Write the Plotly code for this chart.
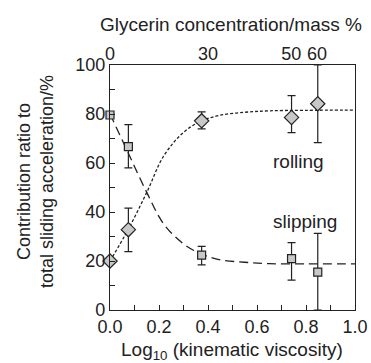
import plotly.graph_objects as go

# ---- data ----
log_visc = [0.0, 0.075, 0.374, 0.741, 0.848]
slipping = [79.6, 66.7, 22.4, 21.0, 15.5]
slipping_err_plus = [0.0, 9.0, 3.6, 6.5, 15.8]
slipping_err_minus = [0.0, 8.7, 4.0, 8.8, 15.5]
rolling = [20.0, 32.8, 77.2, 78.6, 84.2]
rolling_err_plus = [0.0, 8.8, 3.7, 8.9, 15.8]
rolling_err_minus = [0.0, 9.0, 3.3, 6.2, 15.9]

curve_x = [0.0, 0.075, 0.15, 0.22, 0.30, 0.37, 0.45, 0.55, 0.65, 0.80, 1.0]
rolling_curve = [20.0, 33.0, 48.0, 63.0, 72.5, 77.0, 79.5, 80.7, 81.3, 81.5, 81.6]
slipping_curve = [80.0, 64.0, 48.0, 35.0, 27.0, 23.0, 20.5, 19.5, 18.9, 18.8, 18.8]

glycerin_pos = [0.0, 0.40, 0.74, 0.845]
glycerin_labels = ["0", "30", "50", "60"]

FONT = "Liberation Sans, Arial, Helvetica, sans-serif"
INK = "#222222"
W, H = 371, 363
L, R, T, B = 110, 16, 65, 53
PW, PH = W - L - R, H - T - B


def px_x(px):
    return (px - L) / PW


def px_y(py):
    return (H - B - py) / PH


fig = go.Figure()

fig.add_trace(go.Scatter(x=curve_x, y=rolling_curve, mode="lines", line_shape="spline",
                         line=dict(color=INK, width=1.3, dash="3px,2px"), showlegend=False))
fig.add_trace(go.Scatter(x=curve_x, y=slipping_curve, mode="lines", line_shape="spline",
                         line=dict(color=INK, width=1.3, dash="9px,5px"), showlegend=False))

fig.add_trace(go.Scatter(
    x=log_visc, y=slipping, mode="markers", cliponaxis=False, showlegend=False,
    marker=dict(symbol="square", size=8, color="#c8c8c8", line=dict(color=INK, width=1.2)),
    error_y=dict(type="data", symmetric=False, array=slipping_err_plus,
                 arrayminus=slipping_err_minus, color=INK, thickness=1.2, width=4)))
fig.add_trace(go.Scatter(
    x=log_visc, y=rolling, mode="markers", cliponaxis=False, showlegend=False,
    marker=dict(symbol="diamond", size=11, color="#c8c8c8", line=dict(color=INK, width=1.2)),
    error_y=dict(type="data", symmetric=False, array=rolling_err_plus,
                 arrayminus=rolling_err_minus, color=INK, thickness=1.2, width=4)))

# dummy trace for top axis
fig.add_trace(go.Scatter(x=[0, 1], y=[None, None], xaxis="x2", showlegend=False, hoverinfo="skip"))

axis_common = dict(showline=True, linecolor=INK, linewidth=1.2, mirror=True, showgrid=False,
                   zeroline=False, ticks="inside", ticklen=5, tickcolor=INK, tickwidth=1,
                   automargin=False, tickfont=dict(family=FONT, size=18, color=INK))

fig.update_layout(
    width=W, height=H,
    margin=dict(l=L, r=R, t=T, b=B),
    paper_bgcolor="white", plot_bgcolor="white",
    font=dict(family=FONT, color=INK),
    xaxis=dict(range=[0, 1], tickvals=[0, 0.2, 0.4, 0.6, 0.8, 1.0],
               ticktext=["0.0", "0.2", "0.4", "0.6", "0.8", "1.0"],
               minor=dict(tickvals=[0.1, 0.3, 0.5, 0.7, 0.9], ticks="inside", ticklen=5,
                          tickcolor=INK),
               ticklabelstandoff=0, **axis_common),
    xaxis2=dict(range=[0, 1], overlaying="x", side="top", tickvals=glycerin_pos,
                ticktext=glycerin_labels, ticks="", showline=False, showgrid=False,
                zeroline=False, ticklabelstandoff=0, automargin=False,
                tickfont=dict(family=FONT, size=18, color=INK)),
    yaxis=dict(range=[0, 100], tickvals=[0, 20, 40, 60, 80, 100],
               minor=dict(tickvals=[10, 30, 50, 70, 90], ticks="inside", ticklen=5,
                          tickcolor=INK),
               ticklabelstandoff=0, **axis_common),
)

ann_common = dict(showarrow=False, xanchor="center", yanchor="middle")
fig.add_annotation(text="rolling", x=0.77, y=60.5, xref="x", yref="y",
                   font=dict(family=FONT, size=19, color=INK), **ann_common)
fig.add_annotation(text="slipping", x=0.796, y=36, xref="x", yref="y",
                   font=dict(family=FONT, size=19, color=INK), **ann_common)
fig.add_annotation(text="Glycerin concentration/mass %", x=px_x(231), y=px_y(24),
                   xref="paper", yref="paper",
                   font=dict(family=FONT, size=19, color=INK), **ann_common)
fig.add_annotation(text="Log<sub>10</sub> (kinematic viscosity)", x=px_x(232), y=px_y(351),
                   xref="paper", yref="paper",
                   font=dict(family=FONT, size=19, color=INK), **ann_common)
fig.add_annotation(text="Contribution ratio to<br>total sliding acceleration/%", x=px_x(35),
                   y=px_y(182), xref="paper", yref="paper", textangle=-90,
                   font=dict(family=FONT, size=18, color=INK), **ann_common)

fig.write_html("out.html", config={"displayModeBar": False},
               post_script="document.body.style.margin='0';document.body.style.padding='0';")
